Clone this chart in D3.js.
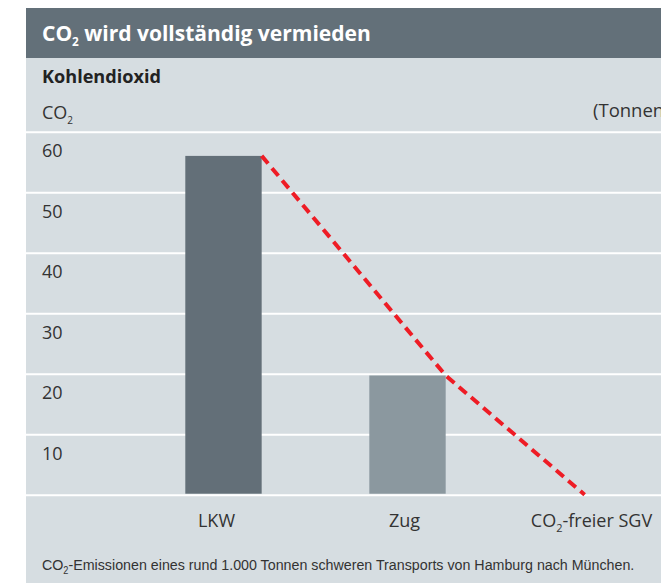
<!DOCTYPE html>
<html>
<head>
<meta charset="utf-8">
<script src="https://cdn.jsdelivr.net/npm/d3@7"></script>
<style>
  body { margin: 0; background: #fff; }
  svg { display: block; }
</style>
</head>
<body>
<div id="chart"></div>
<script>
// data
const categories = ["LKW", "Zug", "CO2-freier SGV"];
const emissions = [56, 19.7, 0];          // Tonnen CO2
const yTicks = [0, 10, 20, 30, 40, 50, 60];
const barColors = ["#636f78", "#8b989f", "#8b989f"];

const width = 661;
const height = 583;
const panelLeft = 26;
const plotTop = 131.7;
const plotBottom = 494.7;

// squeeze a text horizontally so it has the width of the original (condensed) font
function fitWidth(sel, target) {
  const w = sel.node().getComputedTextLength();
  const x0 = +sel.attr("x");
  sel.attr("transform", "translate(" + x0 + ",0) scale(" + (target / w) + ",1) translate(" + (-x0) + ",0)");
}

const svg = d3.select("#chart")
  .append("svg")
    .attr("width", width)
    .attr("height", height);

// background boxes
svg.append("rect")
  .attr("x", panelLeft).attr("y", 58)
  .attr("width", width - panelLeft).attr("height", height - 58)
  .attr("fill", "#d6dde1");

svg.append("rect")
  .attr("x", panelLeft).attr("y", 8)
  .attr("width", width - panelLeft).attr("height", 50)
  .attr("fill", "#637079");

// title
const title = svg.append("text")
  .attr("x", 42).attr("y", 41)
  .attr("fill", "#fff")
  .attr("font-family", "'Open Sans', sans-serif")
  .attr("font-weight", "bold")
  .attr("font-size", "21.5px");
title.append("tspan").text("CO");
title.append("tspan").attr("font-size", "12px").attr("dy", 5).text("2");
title.append("tspan").attr("dy", -5).text(" wird vollständig vermieden");
fitWidth(title, 329);

const head = svg.append("text")
  .attr("x", 42).attr("y", 83)
  .attr("fill", "#222")
  .attr("font-family", "'Open Sans', sans-serif")
  .attr("font-weight", "bold")
  .attr("font-size", "17.5px")
  .text("Kohlendioxid");
fitWidth(head, 119);

const unit = svg.append("text")
  .attr("x", 42).attr("y", 119)
  .attr("fill", "#333")
  .attr("font-family", "'Open Sans', sans-serif")
  .attr("font-size", "18px");
unit.append("tspan").text("CO");
unit.append("tspan").attr("font-size", "10px").attr("dy", 5).text("2");

svg.append("text")
  .attr("x", 593).attr("y", 117)
  .attr("fill", "#333")
  .attr("font-family", "'Open Sans', sans-serif")
  .attr("font-size", "18.5px")
  .text("(Tonnen)");

// scales
const x = d3.scaleBand()
  .domain(categories)
  .range([185.3, 629.7])
  .paddingInner(0.585)
  .paddingOuter(0);

const y = d3.scaleLinear()
  .domain([0, 60])
  .range([plotBottom, plotTop]);

// gridlines + value labels
const yAxis = svg.append("g")
  .attr("transform", "translate(" + panelLeft + ",0)")
  .call(d3.axisRight(y)
    .tickValues(yTicks)
    .tickSize(width - panelLeft)
    .tickFormat(d => d === 0 ? "" : d));

yAxis.select(".domain").remove();
yAxis.selectAll(".tick line")
  .attr("stroke", "#fff")
  .attr("stroke-width", 2);
yAxis.selectAll(".tick text")
  .attr("x", 16)
  .attr("dy", 25)
  .attr("text-anchor", "start")
  .attr("fill", "#333")
  .attr("font-family", "'Open Sans', sans-serif")
  .attr("font-size", "18px");

// bars
svg.selectAll(".bar")
  .data(categories)
  .enter()
  .append("rect")
    .attr("class", "bar")
    .attr("x", d => x(d))
    .attr("y", (d, i) => y(emissions[i]))
    .attr("width", x.bandwidth())
    .attr("height", (d, i) => plotBottom - y(emissions[i]) - 1)
    .attr("fill", (d, i) => barColors[i]);

// red dashed trend line over the bar tops
const line = d3.line()
  .x((d, i) => i < 2 ? x(d) + x.bandwidth() : x(d) + x.bandwidth() * 0.41)
  .y((d, i) => y(emissions[i]));

svg.append("path")
  .datum(categories)
  .attr("d", line)
  .attr("fill", "none")
  .attr("stroke", "#ee1c25")
  .attr("stroke-width", 4)
  .attr("stroke-dasharray", "10,6");

// category labels
const labelShift = [-7, -3, 0];
const xAxis = svg.append("g")
  .attr("transform", "translate(0," + plotBottom + ")")
  .call(d3.axisBottom(x).tickSize(0));

xAxis.select(".domain").remove();
xAxis.selectAll(".tick text")
  .attr("y", 32)
  .attr("dy", 0)
  .attr("dx", (d, i) => labelShift[i])
  .attr("fill", "#333")
  .attr("font-family", "'Open Sans', sans-serif")
  .attr("font-size", "18px")
  .each(function(d) {
    if (d.startsWith("CO2")) {
      const t = d3.select(this).text(null);
      t.append("tspan").text("CO");
      t.append("tspan").attr("font-size", "11px").attr("dy", 5).text("2");
      t.append("tspan").attr("dy", -5).text(d.slice(3));
    }
  });

// footnote
const note = svg.append("text")
  .attr("x", 42).attr("y", 570)
  .attr("fill", "#333")
  .attr("font-family", "'Liberation Sans', sans-serif")
  .attr("font-size", "15.5px");
note.append("tspan").text("CO");
note.append("tspan").attr("font-size", "10px").attr("dy", 4).text("2");
note.append("tspan").attr("dy", -4).text("-Emissionen eines rund 1.000 Tonnen schweren Transports von Hamburg nach München.");
fitWidth(note, 593);
</script>
</body>
</html>
